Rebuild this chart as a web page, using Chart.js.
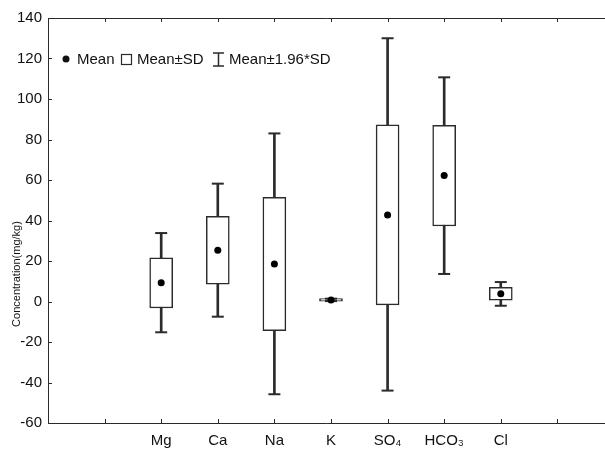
<!DOCTYPE html>
<html>
<head>
<meta charset="utf-8">
<script src="https://cdn.jsdelivr.net/npm/chart.js@4.4.0/dist/chart.umd.min.js"></script>
<style>
  html, body { margin: 0; padding: 0; background: #fff; }
  #wrap { width: 605px; height: 450px; }
</style>
</head>
<body>
<div id="wrap"><canvas id="chart" width="605" height="450"></canvas></div>
<script>
// data
const categories = ['Mg', 'Ca', 'Na', 'K', 'SO₄', 'HCO₃', 'Cl'];
const positions = [2, 3, 4, 5, 6, 7, 8];
const means = [9.2, 25.3, 18.5, 0.8, 42.7, 62.2, 3.8];
const sdLow = [-3.2, 8.5, -14.4, 0.2, -1.7, 37.3, 0.6];
const sdHigh = [21.6, 42.1, 51.4, 1.4, 87.2, 87.0, 7.0];
const ciLow = [-15.2, -7.5, -45.8, 0.2, -44.0, 13.6, -2.1];
const ciHigh = [33.8, 58.2, 83.0, 1.4, 130.0, 110.7, 9.6];
const yTicks = [-60, -40, -20, 0, 20, 40, 60, 80, 100, 120, 140];
const xTicks = [1, 2, 3, 4, 5, 6, 7, 8, 9];

const INK = '#2b2b2b';
const FONT = 'Arial, "Liberation Sans", sans-serif';

const framePlugin = {
    id: 'frame',
    afterDraw(chart) {
        const ctx = chart.ctx;
        const a = chart.chartArea;
        const xs = chart.scales.x, ys = chart.scales.y;
        ctx.save();
        ctx.strokeStyle = INK;
        ctx.lineWidth = 1;
        ctx.beginPath();
        ctx.moveTo(605, a.top + 0.5); ctx.lineTo(a.left + 0.5, a.top + 0.5);
        ctx.lineTo(a.left + 0.5, a.bottom + 0.5); ctx.lineTo(605, a.bottom + 0.5);
        // inner tick marks
        yTicks.forEach(v => {
            const y = Math.round(ys.getPixelForValue(v)) + 0.5;
            ctx.moveTo(a.left, y); ctx.lineTo(a.left + 4, y);
        });
        xTicks.forEach(v => {
            const x = Math.round(xs.getPixelForValue(v)) + 0.5;
            ctx.moveTo(x, a.bottom); ctx.lineTo(x, a.bottom - 4);
            ctx.moveTo(x, a.top); ctx.lineTo(x, a.top + 4);
        });
        ctx.stroke();

        // legend
        ctx.fillStyle = '#111';
        ctx.font = '15px ' + FONT;
        ctx.textBaseline = 'middle';
        ctx.beginPath();
        ctx.arc(66, 59, 3.5, 0, Math.PI * 2);
        ctx.fill();
        ctx.fillText('Mean', 77, 60);
        ctx.lineWidth = 1.2;
        ctx.strokeRect(121.5, 54.5, 10, 10);
        ctx.fillText('Mean±SD', 137, 60);
        ctx.lineWidth = 1.5;
        ctx.beginPath();
        ctx.moveTo(218.5, 53); ctx.lineTo(218.5, 66);
        ctx.moveTo(213, 53); ctx.lineTo(224, 53);
        ctx.moveTo(213, 66); ctx.lineTo(224, 66);
        ctx.stroke();
        ctx.fillText('Mean±1.96*SD', 229, 60);

        // y axis title
        ctx.translate(17, 274);
        ctx.rotate(-Math.PI / 2);
        ctx.textAlign = 'center';
        ctx.font = '11px ' + FONT;
        ctx.fillText('Concentration(mg/kg)', 0, 0);
        ctx.restore();
    }
};

function pts(vals) {
    return vals.map((v, i) => ({ x: positions[i], y: v }));
}

new Chart(document.getElementById('chart'), {
    type: 'bar',
    data: {
        datasets: [
            {
                type: 'line',
                label: 'Mean',
                data: pts(means),
                showLine: false,
                pointRadius: 3.5,
                pointBackgroundColor: '#000',
                pointBorderWidth: 0,
                order: 0
            },
            {
                type: 'line',
                label: 'caps',
                data: pts(ciLow).concat(pts(ciHigh)),
                showLine: false,
                pointStyle: 'line',
                pointRadius: 6,
                pointBorderWidth: 2,
                pointBorderColor: INK,
                order: 1
            },
            {
                label: 'Mean±SD',
                data: positions.map((p, i) => ({ x: p, y: [sdLow[i], sdHigh[i]] })),
                backgroundColor: '#fff',
                borderColor: INK,
                borderWidth: 1.5,
                borderSkipped: false,
                barThickness: 23,
                grouped: false,
                order: 2
            },
            {
                label: 'Mean±1.96*SD',
                data: positions.map((p, i) => ({ x: p, y: [ciLow[i], ciHigh[i]] })),
                backgroundColor: INK,
                borderWidth: 0,
                barThickness: 2,
                grouped: false,
                order: 3
            }
        ]
    },
    options: {
        responsive: false,
        animation: false,
        layout: { padding: { top: 18, left: 0, right: 0, bottom: 0 } },
        plugins: { legend: { display: false }, tooltip: { enabled: false } },
        scales: {
            x: {
                type: 'linear',
                offset: false,
                min: 0,
                max: 9.7,
                grid: { display: false, drawTicks: false, offset: false },
                border: { display: false },
                afterBuildTicks: s => { s.ticks = xTicks.map(v => ({ value: v })); },
                afterFit: s => { s.height = 27; },
                ticks: {
                    autoSkip: false,
                    maxRotation: 0,
                    padding: 9,
                    color: '#111',
                    font: { family: FONT, size: 15 },
                    callback: v => {
                        const i = positions.indexOf(v);
                        return i >= 0 ? categories[i] : '';
                    }
                }
            },
            y: {
                min: -60,
                max: 140,
                grid: { display: false, drawTicks: false },
                border: { display: false },
                afterBuildTicks: s => { s.ticks = yTicks.map(v => ({ value: v })); },
                afterFit: s => { s.width = 48; },
                ticks: {
                    padding: 6,
                    color: '#111',
                    font: { family: FONT, size: 15 }
                }
            }
        }
    },
    plugins: [framePlugin]
});
</script>
</body>
</html>
